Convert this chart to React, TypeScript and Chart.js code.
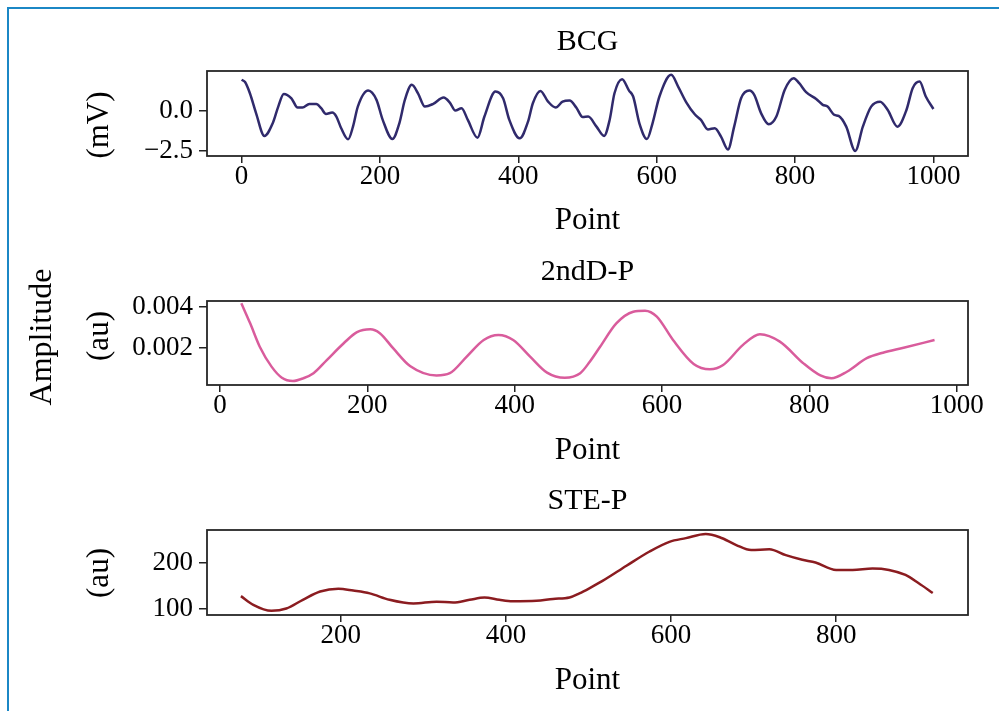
import React, { useEffect, useRef } from 'react';
import { Chart, registerables } from 'chart.js';

Chart.register(...registerables);

// ---------------- data ----------------
const bcgX = [0,5,12,21,33,45,53,61,72,81,88,98,108,115,122,131,137,144,154,161,168,183,195,204,218,228,236,246,255,265,277,292,301,309,318,327,341,351,367,378,387,402,414,421,432,443,454,464,474,484,493,501,513,524,532,539,550,560,566,575,586,594,604,621,631,643,655,664,674,684,693,703,712,722,734,741,751,762,773,785,798,806,816,831,840,847,857,863,874,887,898,910,923,934,948,961,970,980,989,1000];
const bcgY = [1.94,1.8,1.1,-0.15,-1.56,-0.77,0.27,1.06,0.79,0.21,0.21,0.44,0.44,0.17,-0.19,-0.1,-0.35,-1.08,-1.77,-0.98,0.27,1.27,0.69,-0.56,-1.75,-0.77,0.69,1.63,1.1,0.27,0.44,0.83,0.52,0.02,0.17,-0.56,-1.67,-0.35,1.21,0.79,-0.56,-1.71,-0.67,0.48,1.25,0.58,0.21,0.58,0.65,0.2,-0.38,-0.35,-0.98,-1.56,-0.56,1.1,1.98,1.27,0.9,-0.77,-1.75,-0.77,0.9,2.25,1.52,0.52,-0.21,-0.56,-1.15,-1.08,-1.6,-2.4,-0.98,0.79,1.27,1.0,-0.15,-0.83,-0.35,1.31,2.04,1.73,1.17,0.73,0.38,0.27,-0.25,-0.31,-0.98,-2.5,-0.98,0.27,0.58,0.06,-0.98,0.06,1.42,1.83,0.9,0.12];

const ddpX = [29,41,54,70,84,99,113,127,145,168,186,204,217,235,258,294,312,335,358,378,398,421,444,468,489,502,516,538,561,577,593,615,643,665,683,710,733,760,792,815,830,851,878,900,928,970];
const ddpY = [0.00418,0.0032,0.00206,0.00109,0.00055,0.00039,0.00052,0.00077,0.00141,0.00223,0.00277,0.00291,0.00272,0.00199,0.00112,0.00066,0.00077,0.00158,0.00239,0.00263,0.00239,0.00158,0.0008,0.00055,0.00077,0.00133,0.00206,0.0032,0.00377,0.00382,0.00353,0.00239,0.00122,0.00096,0.00117,0.00215,0.00267,0.00231,0.00125,0.00066,0.00052,0.00084,0.0015,0.00177,0.00201,0.00239];

const steX = [79,94,116,134,154,175,197,215,235,259,288,316,336,356,374,392,408,437,457,477,489,501,517,546,574,598,618,642,659,679,697,719,739,759,775,800,820,844,864,884,900,917];
const steY = [128,109,96,101,120,138,144,140,134,120,112,116,114,120,125,120,117,118,122,125,134,145,161,194,225,246,254,263,256,239,228,230,217,207,201,185,185,188,185,174,156,135];

const titles = ['BCG', '2ndD-P', 'STE-P'];
const yLabels = ['(mV)', '(au)', '(au)'];
const xLabel = 'Point';
const figLabel = 'Amplitude';

const xTicks = [[0, 200, 400, 600, 800, 1000], [0, 200, 400, 600, 800, 1000], [200, 400, 600, 800]];
const yTicks = [[-2.5, 0], [0.002, 0.004], [100, 200]];
const yDecimals = [1, 3, 0];
const xRanges = [[-50, 1050], [-17.6, 1015.4], [37.9, 959.7]];
const yRanges = [[-2.81, 2.49], [0.000195, 0.00429], [87, 271.7]];

const seriesX = [bcgX, ddpX, steX];
const seriesY = [bcgY, ddpY, steY];

// ---------------- layout / style ----------------
const W = 999;
const H = 711;
const AREA_LEFT = 207;
const AREA_RIGHT = 968;
const YLABEL_X = 100;
const FIGLABEL_X = 43;
const FIGLABEL_Y = 337;
const FAMILY = "'Liberation Serif', 'Times New Roman', serif";
const colors = ['#302a6c', '#d95c9c', '#8b1c20'];
const layoutPanels = [
  { areaTop: 71, areaBottom: 156, titleY: 42, xlabelY: 221, ylabelY: 125 },
  { areaTop: 301, areaBottom: 385, titleY: 272, xlabelY: 451, ylabelY: 336 },
  { areaTop: 530, areaBottom: 615, titleY: 501, xlabelY: 681, ylabelY: 573 },
];
const TITLE_SIZE = 30;
const LABEL_SIZE = 31;
const TICK_SIZE = 27;

const framePlugin = {
  id: 'frameLabels',
  afterDraw(chart: any, _args: any, opts: any) {
    const ctx = chart.ctx;
    const a = chart.chartArea;
    ctx.save();
    ctx.strokeStyle = '#262626';
    ctx.lineWidth = 1.8;
    ctx.strokeRect(a.left, a.top, a.right - a.left, a.bottom - a.top);
    (opts.labels || []).forEach((l: any) => {
      ctx.save();
      ctx.translate(l.x, l.y);
      ctx.rotate(-Math.PI / 2);
      ctx.font = `${l.size}px ${FAMILY}`;
      ctx.fillStyle = '#000';
      ctx.textAlign = 'center';
      ctx.textBaseline = 'middle';
      ctx.fillText(l.text, 0, 0);
      ctx.restore();
    });
    ctx.restore();
  },
};

function fmt(v: number, d: number) {
  return v.toFixed(d).replace('-', '\u2212');
}

function makeConfig(i: number): any {
  const p = layoutPanels[i];
  const half = (LABEL_SIZE * 1.2) / 2;
  const bandBottom = p.xlabelY + half;
  const tHalf = (TITLE_SIZE * 1.2) / 2;
  const labels: any[] = [{ text: yLabels[i], x: YLABEL_X, y: p.ylabelY, size: LABEL_SIZE }];
  if (i === 1) labels.push({ text: figLabel, x: FIGLABEL_X, y: FIGLABEL_Y, size: 32 });
  const data = seriesX[i].map((x, k) => ({ x, y: seriesY[i][k] }));
  return {
    type: 'line',
    data: {
      datasets: [
        {
          data,
          borderColor: colors[i],
          borderWidth: 2.5,
          pointRadius: 0,
          fill: false,
          cubicInterpolationMode: 'monotone',
        },
      ],
    },
    options: {
      animation: false,
      responsive: false,
      maintainAspectRatio: false,
      events: [],
      layout: { padding: { top: 0, left: 0, right: W - AREA_RIGHT, bottom: H - bandBottom } },
      plugins: {
        legend: { display: false },
        tooltip: { enabled: false },
        title: {
          display: true,
          fullSize: false,
          text: titles[i],
          color: '#000',
          font: { family: FAMILY, size: TITLE_SIZE, lineHeight: 1.2, weight: 'normal' },
          padding: { top: p.titleY - tHalf, bottom: p.areaTop - p.titleY - tHalf },
        },
        frameLabels: { labels },
      },
      scales: {
        x: {
          type: 'linear',
          position: 'bottom',
          min: xRanges[i][0],
          max: xRanges[i][1],
          afterBuildTicks: (s: any) => {
            s.ticks = xTicks[i].map((v) => ({ value: v }));
          },
          afterFit: (s: any) => {
            s.height = bandBottom - p.areaBottom;
          },
          ticks: {
            color: '#000',
            font: { family: FAMILY, size: TICK_SIZE, lineHeight: 1 },
            padding: 0,
            maxRotation: 0,
            autoSkip: false,
            callback: (v: number) => String(v),
          },
          grid: { drawOnChartArea: false, drawTicks: true, tickLength: 7, color: '#222', lineWidth: 1.5 },
          border: { display: false },
          title: {
            display: true,
            text: xLabel,
            color: '#000',
            font: { family: FAMILY, size: LABEL_SIZE, lineHeight: 1.2 },
            padding: { top: 0, bottom: 0 },
          },
        },
        y: {
          type: 'linear',
          position: 'left',
          min: yRanges[i][0],
          max: yRanges[i][1],
          afterBuildTicks: (s: any) => {
            s.ticks = yTicks[i].map((v) => ({ value: v }));
          },
          afterFit: (s: any) => {
            s.width = AREA_LEFT;
          },
          ticks: {
            color: '#000',
            font: { family: FAMILY, size: TICK_SIZE, lineHeight: 1 },
            padding: 6,
            autoSkip: false,
            callback: (v: number) => fmt(v, yDecimals[i]),
          },
          grid: { drawOnChartArea: false, drawTicks: true, tickLength: 8, color: '#222', lineWidth: 1.5 },
          border: { display: false },
        },
      },
    },
    plugins: [framePlugin],
  };
}

export default function App() {
  const r0 = useRef<HTMLCanvasElement>(null);
  const r1 = useRef<HTMLCanvasElement>(null);
  const r2 = useRef<HTMLCanvasElement>(null);
  const refs = [r0, r1, r2];

  useEffect(() => {
    const charts = refs.map((r, i) => new Chart(r.current as HTMLCanvasElement, makeConfig(i)));
    return () => charts.forEach((c) => c.destroy());
  }, []);

  return (
    <div style={{ position: 'fixed', left: 0, top: 0, width: W, height: H, background: '#fff', overflow: 'hidden' }}>
      <div style={{ position: 'absolute', left: 7, top: 7, width: W - 7, height: 2, background: '#1b87c5' }} />
      <div style={{ position: 'absolute', left: 7, top: 7, width: 2, height: H - 7, background: '#1b87c5' }} />
      {refs.map((r, i) => (
        <canvas key={i} ref={r} width={W} height={H} style={{ position: 'absolute', left: 0, top: 0 }} />
      ))}
    </div>
  );
}
